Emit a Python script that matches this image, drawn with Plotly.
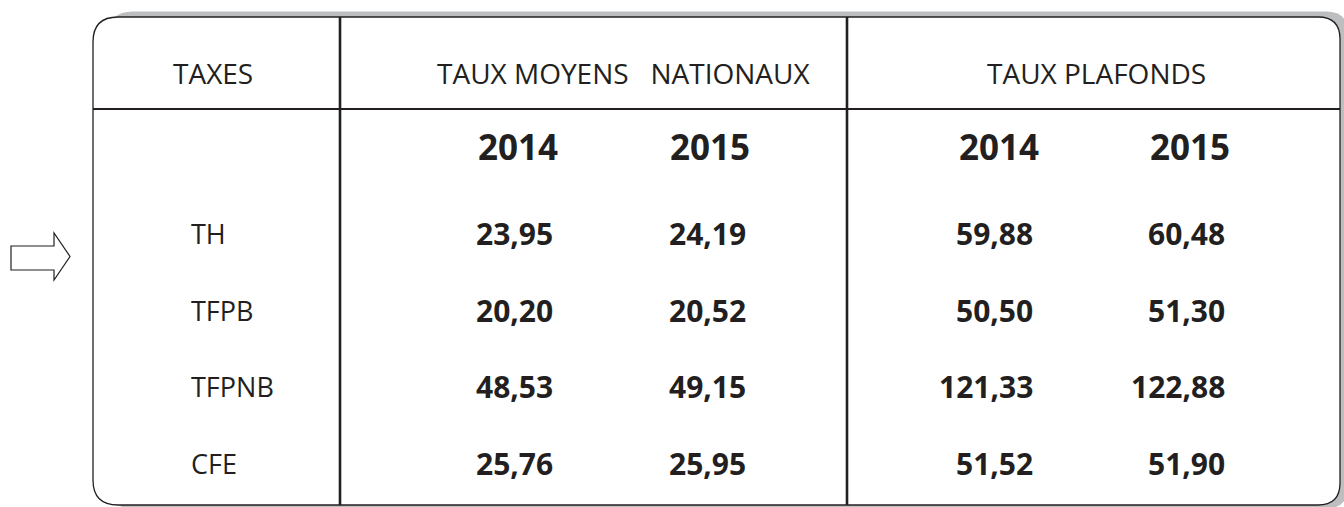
import plotly.graph_objects as go

# table content
taxes = ["TH", "TFPB", "TFPNB", "CFE"]
years = ["2014", "2015"]
moyens_2014 = [23.95, 20.20, 48.53, 25.76]
moyens_2015 = [24.19, 20.52, 49.15, 25.95]
plafonds_2014 = [59.88, 50.50, 121.33, 51.52]
plafonds_2015 = [60.48, 51.30, 122.88, 51.90]
headers = ["TAXES", "TAUX MOYENS\u00a0\u00a0 NATIONAUX", "TAUX PLAFONDS"]

W, H = 1344, 507
INK = "#231f20"
FONT = "Open Sans"

# layout (pixel positions)
box_l, box_t, box_r, box_b = 93, 17, 1340, 505
header_line_y = 109
col_lines_x = [340, 847]
header_x = [213, 623, 1096]
header_y = 73
year_x = [518, 710, 999, 1190]
year_y = 146
value_right_x = [555, 748, 1035, 1227]
label_x = 189
row_y = [233, 310, 386, 463]


def fmt(v):
    return f"{v:.2f}".replace(".", ",")


def rounded_rect(x0, y0, x1, y1, r_left, r_right):
    return (f"M {x0 + r_left},{y0} L {x1 - r_right},{y0} "
            f"Q {x1},{y0} {x1},{y0 + r_right} L {x1},{y1 - r_right} "
            f"Q {x1},{y1} {x1 - r_right},{y1} L {x0 + r_left},{y1} "
            f"Q {x0},{y1} {x0},{y1 - r_left} L {x0},{y0 + r_left} "
            f"Q {x0},{y0} {x0 + r_left},{y0} Z")


fig = go.Figure()

shapes = []
# shadow behind the box
shapes.append(dict(type="path", xref="x", yref="y", layer="below",
                   path=rounded_rect(108, 11.5, 1348, 508.5, 25, 22),
                   fillcolor="#bcbec0", line=dict(width=0)))
# main box
shapes.append(dict(type="path", xref="x", yref="y", layer="below",
                   path=rounded_rect(box_l, box_t, box_r, box_b, 25, 22),
                   fillcolor="white", line=dict(color=INK, width=1.3)))
# header separator
shapes.append(dict(type="line", xref="x", yref="y", x0=box_l, x1=box_r,
                   y0=header_line_y, y1=header_line_y,
                   line=dict(color=INK, width=2.2)))
# column separators
for cx in col_lines_x:
    shapes.append(dict(type="line", xref="x", yref="y", x0=cx, x1=cx,
                       y0=box_t, y1=box_b, line=dict(color=INK, width=2.6)))
# arrow on the left
shapes.append(dict(type="path", xref="x", yref="y",
                   path="M 11,246 L 54,246 L 54,233 L 70,256.5 L 54,280 L 54,270 L 11,270 Z",
                   fillcolor="white", line=dict(color=INK, width=1.2)))

annotations = []
for txt, x in zip(headers, header_x):
    annotations.append(dict(x=x, y=header_y, text=txt, xanchor="center", yanchor="middle",
                            font=dict(family=FONT, size=28, color=INK)))
for txt, x in zip(years * 2, year_x):
    annotations.append(dict(x=x, y=year_y, text=txt, xanchor="center", yanchor="middle",
                            font=dict(family=FONT, size=35, color=INK, weight="bold")))
for lab, y in zip(taxes, row_y):
    annotations.append(dict(x=label_x, y=y, text=lab, xanchor="left", yanchor="middle",
                            font=dict(family=FONT, size=27, color=INK)))
for col, x in zip([moyens_2014, moyens_2015, plafonds_2014, plafonds_2015], value_right_x):
    for v, y in zip(col, row_y):
        annotations.append(dict(x=x, y=y, text=fmt(v), xanchor="right", yanchor="middle",
                                font=dict(family=FONT, size=30, color=INK, weight="bold")))
for a in annotations:
    a.update(xref="x", yref="y", showarrow=False)

fig.update_layout(
    width=W, height=H,
    margin=dict(l=0, r=0, t=0, b=0),
    paper_bgcolor="white", plot_bgcolor="white",
    xaxis=dict(range=[0, W], visible=False, fixedrange=True),
    yaxis=dict(range=[H, 0], visible=False, fixedrange=True),
    shapes=shapes, annotations=annotations,
    showlegend=False,
)

# the page body has a default margin; remove it so the figure sits at 0,0
fig.write_html("out.html", config={"displayModeBar": False},
               post_script="document.body.style.margin='0px';")
